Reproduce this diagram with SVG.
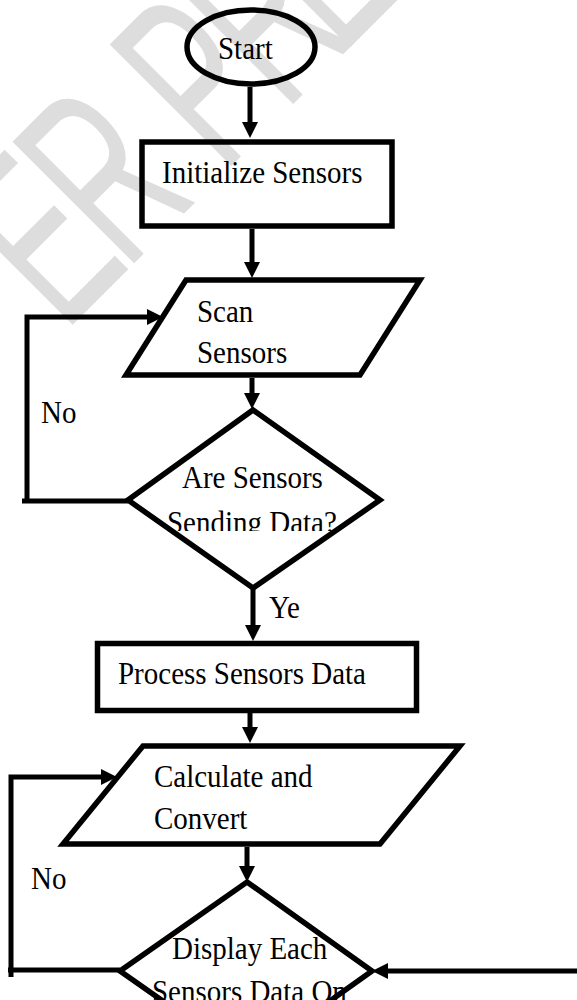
<svg xmlns="http://www.w3.org/2000/svg" width="577" height="1000" viewBox="0 0 577 1000">
  <style>
    .shape { fill: none; stroke: #000; stroke-width: 5.5; stroke-linejoin: miter; }
    .link { fill: none; stroke: #000; stroke-width: 5; }
    .arrow { marker-end: url(#head); }
    .lbl { font-family: "Liberation Serif", "Times New Roman", serif; font-size: 29px; fill: #000; }
    .wm { font-family: "Liberation Sans", Arial, sans-serif; font-size: 250px; fill: #dddddd; }
  </style>
  <defs>
    <marker id="head" viewBox="0 0 16 16" markerWidth="16" markerHeight="16" refX="8" refY="8" orient="auto" markerUnits="userSpaceOnUse">
      <path d="M0,0 L16,8 L0,16 z" fill="#000"/>
    </marker>
    <clipPath id="cut-d1">
      <rect x="140" y="440" width="240" height="91"/>
    </clipPath>
  </defs>

  <rect width="577" height="1000" fill="#fff"/>

  <!-- faint background watermark -->
  <g id="watermark" transform="rotate(-45)">
    <text class="wm" transform="scale(0.58,1)" y="281"><tspan x="-328">E</tspan><tspan x="-178">R</tspan><tspan x="59">P</tspan><tspan x="210">R</tspan><tspan x="348">E</tspan></text>
  </g>

  <!-- connectors -->
  <g id="connectors">
    <path class="link arrow" d="M250,87 V130"/>
    <path class="link arrow" d="M252,229 V270"/>
    <path class="link arrow" d="M252,378 V401"/>
    <path class="link arrow" d="M253,588 V633"/>
    <path class="link arrow" d="M250,713 V735"/>
    <path class="link arrow" d="M247,847 V874"/>
    <!-- "No" loop back to Scan Sensors -->
    <path class="link" d="M128,501 H22"/>
    <path class="link arrow" d="M27,503 V317 H155"/>
    <!-- "No" loop back to Calculate and Convert -->
    <path class="link" d="M120,970 H8"/>
    <path class="link arrow" d="M11,977 V777 H109"/>
    <!-- incoming from the right -->
    <path class="link arrow" d="M577,971 H380"/>
    <text class="lbl" transform="translate(41,423) scale(1,1.1)">No</text>
    <text class="lbl" transform="translate(269,618) scale(1,1.1)">Ye</text>
    <text class="lbl" transform="translate(31,889) scale(1,1.1)">No</text>
  </g>

  <g id="start">
    <ellipse class="shape" cx="251" cy="47" rx="64" ry="37"/>
    <text class="lbl" transform="translate(218,59) scale(1,1.1)">Start</text>
  </g>

  <g id="init">
    <rect class="shape" x="142" y="142" width="250" height="84"/>
    <text class="lbl" transform="translate(162,183) scale(1,1.1)">Initialize Sensors</text>
  </g>

  <g id="scan">
    <polygon class="shape" points="186,280 420,280 360,375 126,375"/>
    <text class="lbl" transform="translate(197,322) scale(1,1.1)">Scan</text>
    <text class="lbl" transform="translate(197,363) scale(1,1.1)">Sensors</text>
  </g>

  <g id="check-data">
    <polygon class="shape" points="253,410 380,500 253,588 128,500"/>
    <g clip-path="url(#cut-d1)">
      <text class="lbl" transform="translate(182,488) scale(1,1.1)">Are Sensors</text>
      <text class="lbl" transform="translate(167,533) scale(1,1.1)">Sending Data?</text>
    </g>
  </g>

  <g id="process">
    <rect class="shape" x="97.5" y="643.5" width="319" height="67"/>
    <text class="lbl" transform="translate(118,684) scale(1,1.1)">Process Sensors Data</text>
  </g>

  <g id="calc">
    <polygon class="shape" points="143,746 460,746 380,844 63,844"/>
    <text class="lbl" transform="translate(154,787) scale(1,1.1)">Calculate and</text>
    <text class="lbl" transform="translate(154,829) scale(1,1.1)">Convert</text>
  </g>

  <g id="display">
    <text class="lbl" transform="translate(172,959) scale(1,1.1)">Display Each</text>
    <text class="lbl" transform="translate(152,1002) scale(1,1.1)">Sensors Data On</text>
    <polygon class="shape" points="247,882 372,971 247,1060 120,971"/>
  </g>
</svg>
